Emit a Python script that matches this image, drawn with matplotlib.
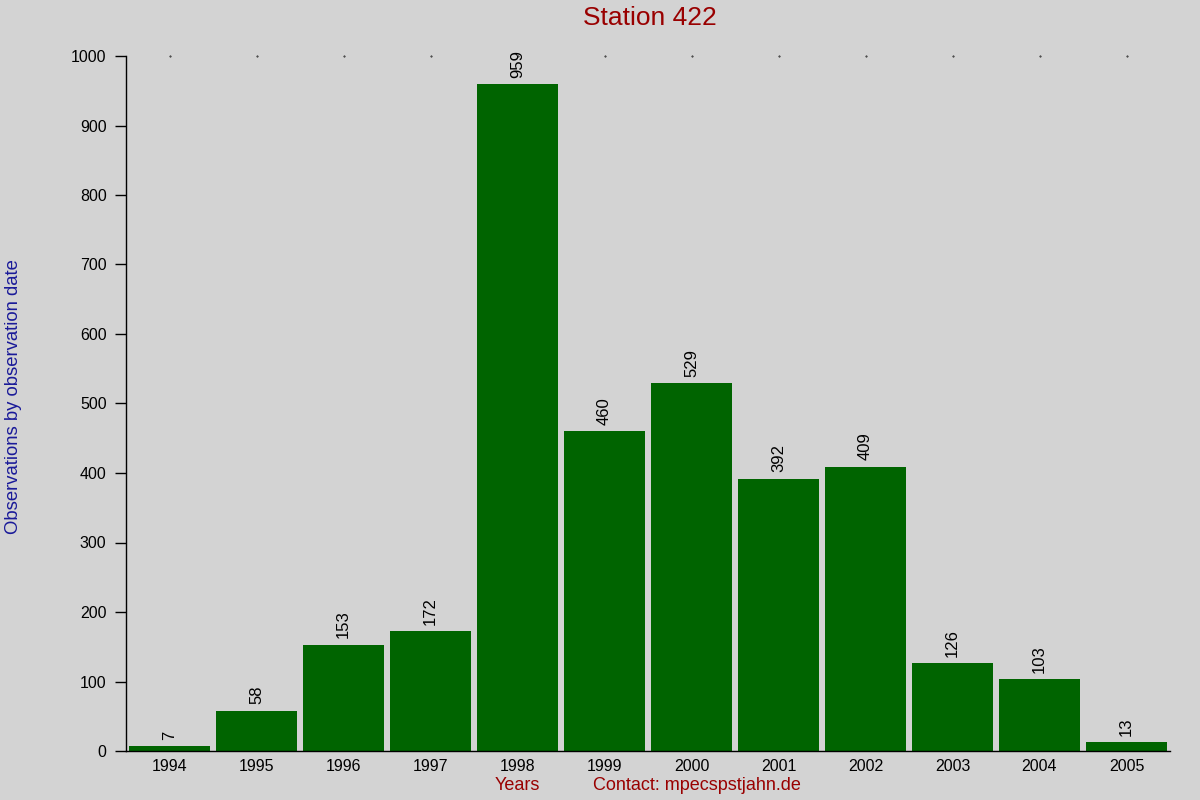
import numpy as np
import matplotlib
matplotlib.use('Agg')
import matplotlib.pyplot as plt

years = ['1994', '1995', '1996', '1997', '1998', '1999', '2000', '2001', '2002', '2003', '2004', '2005']
counts = [7, 58, 153, 172, 959, 460, 529, 392, 409, 126, 103, 13]
yticks = [0, 100, 200, 300, 400, 500, 600, 700, 800, 900, 1000]

plt.rcParams['font.family'] = ['Liberation Sans', 'DejaVu Sans']

bg = '#d3d3d3'
fig = plt.figure(figsize=(12, 8), dpi=100, facecolor=bg)
ax = fig.add_axes([0.105, 0.06125, 0.87, 0.86875], facecolor=bg)

x = np.arange(len(years))
ax.bar(x, counts, width=0.92, color='#006400', zorder=2)

for xi, c in zip(x, counts):
    ax.annotate(str(c), (xi, c), xytext=(0, 4.5), textcoords='offset points',
                rotation=90, ha='center', va='bottom', fontsize=12, color='black')

# small dots at the top of the plot area
ax.plot(x, np.full(len(x), 1000), linestyle='none', marker='.', markersize=0.8, color='black', clip_on=False)

ax.set_xlim(-0.5, len(years) - 0.5)
ax.set_ylim(0, 1000)
ax.set_xticks(x)
ax.set_xticklabels(years, fontsize=11.5)
ax.set_yticks(yticks)
ax.set_yticklabels([str(t) for t in yticks], fontsize=11.5)
ax.tick_params(axis='x', length=0, pad=6)
ax.tick_params(axis='y', length=8, width=1, pad=6)

for s in ['top', 'right']:
    ax.spines[s].set_visible(False)
ax.spines['left'].set_linewidth(1)
ax.spines['bottom'].set_linewidth(1)

fig.text(0.5417, 0.978, 'Station 422', ha='center', va='center', fontsize=19, color='#990000')
fig.text(0.011, 0.504, 'Observations by observation date', rotation=90, ha='center', va='center',
         fontsize=13.3, color='#1a1a99')
fig.text(0.431, 0.0175, 'Years', ha='center', va='center', fontsize=13, color='#990000')
fig.text(0.581, 0.0175, 'Contact: mpecspstjahn.de', ha='center', va='center', fontsize=13, color='#990000')

plt.savefig('out.png', dpi=100, facecolor=bg)
plt.close()
